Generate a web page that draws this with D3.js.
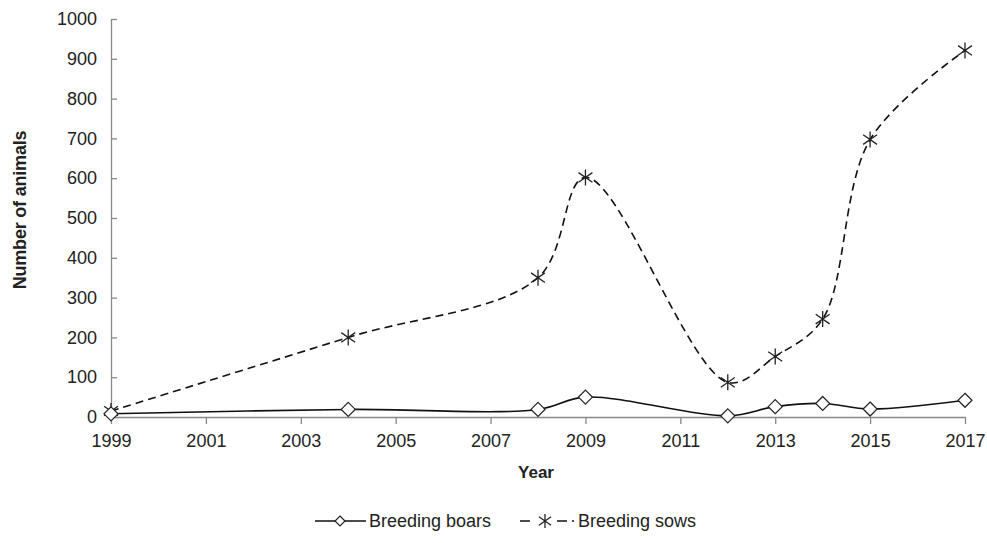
<!DOCTYPE html>
<html>
<head>
<meta charset="utf-8">
<script src="https://cdn.jsdelivr.net/npm/d3@7"></script>
<style>
  body { margin: 0; background: #fff; }
  text { font-family: "Liberation Sans", Arial, sans-serif; fill: #222; }
</style>
</head>
<body>
<div id="chart"></div>
<script>
const years = [1999, 2004, 2008, 2009, 2012, 2013, 2014, 2015, 2017];
const boars = [8, 19, 19, 50, 3, 26, 34, 20, 42];
const sows = [15, 200, 350, 602, 87, 152, 246, 697, 921];
const xTicks = [1999, 2001, 2003, 2005, 2007, 2009, 2011, 2013, 2015, 2017];
const yTicks = [0, 100, 200, 300, 400, 500, 600, 700, 800, 900, 1000];

const width = 987, height = 543;
const margin = { top: 19, right: 22, bottom: 126, left: 111 };
const w = width - margin.left - margin.right;
const h = height - margin.top - margin.bottom;

const svg = d3.select('#chart').append('svg')
  .attr('width', width).attr('height', height);
const g = svg.append('g').attr('transform', `translate(${margin.left},${margin.top})`);

const x = d3.scaleLinear().domain([1999, 2017]).range([0, w]);
const y = d3.scaleLinear().domain([0, 1000]).range([h, 0]);

// 軸
const xAxis = g.append('g').attr('transform', `translate(0,${h})`)
  .call(d3.axisBottom(x).tickValues(xTicks).tickFormat(d3.format('d')).tickSize(7).tickSizeOuter(0));
const yAxis = g.append('g')
  .call(d3.axisLeft(y).tickValues(yTicks).tickFormat(d3.format('d')).tickSize(-6).tickSizeOuter(0).tickPadding(14));
[xAxis, yAxis].forEach(a => {
  a.select('.domain').attr('stroke', '#888').attr('stroke-width', 1.3);
  a.selectAll('.tick line').attr('stroke', '#888').attr('stroke-width', 1.3);
  a.selectAll('.tick text').style('font-size', '18px').attr('fill', '#222');
});
xAxis.selectAll('.tick text').attr('dy', '1.1em');

// 軸ラベル
g.append('text').attr('x', w / 2 - 2).attr('y', h + 61)
  .attr('text-anchor', 'middle').style('font-size', '17px').style('font-weight', 'bold').text('Year');
g.append('text').attr('transform', 'rotate(-90)')
  .attr('x', -191).attr('y', -85)
  .attr('text-anchor', 'middle').style('font-size', '18px').style('font-weight', 'bold')
  .style('letter-spacing', '-0.2px').text('Number of animals');

const line = d3.line().curve(d3.curveCatmullRom.alpha(0.5))
  .x(d => x(d[0])).y(d => y(d[1]));

const boarData = years.map((yr, i) => [yr, boars[i]]);
const sowData = years.map((yr, i) => [yr, sows[i]]);

g.append('path').datum(sowData).attr('d', line)
  .attr('fill', 'none').attr('stroke', '#111').attr('stroke-width', 1.6).attr('stroke-dasharray', '8,5');
g.append('path').datum(boarData).attr('d', line)
  .attr('fill', 'none').attr('stroke', '#111').attr('stroke-width', 1.6);

const diamond = (sel, cx, cy, r) => sel.append('path')
  .attr('d', `M${cx},${cy - r}L${cx + r},${cy}L${cx},${cy + r}L${cx - r},${cy}Z`)
  .attr('fill', '#fff').attr('stroke', '#222').attr('stroke-width', 1.2);
const star = (sel, cx, cy, r) => sel.append('path')
  .attr('d', `M${cx},${cy - r}V${cy + r}M${cx - r * 0.87},${cy - r * 0.6}L${cx + r * 0.87},${cy + r * 0.6}M${cx - r * 0.87},${cy + r * 0.6}L${cx + r * 0.87},${cy - r * 0.6}`)
  .attr('fill', 'none').attr('stroke', '#222').attr('stroke-width', 1.3);

sowData.forEach(d => star(g, x(d[0]), y(d[1]), 8));
boarData.forEach(d => diamond(g, x(d[0]), y(d[1]), 7));

// 凡例
const lg = svg.append('g').attr('transform', 'translate(0,521)');
lg.append('line').attr('x1', 315).attr('x2', 366).attr('y1', 0).attr('y2', 0).attr('stroke', '#111').attr('stroke-width', 1.6);
diamond(lg, 340, 0, 5);
lg.append('text').attr('x', 369).attr('y', 6).style('font-size', '18px').text('Breeding boars');
lg.append('line').attr('x1', 520).attr('x2', 575).attr('y1', 0).attr('y2', 0).attr('stroke', '#111').attr('stroke-width', 1.6).attr('stroke-dasharray', '10,27,10,5,2,20');
star(lg, 545, 0, 7);
lg.append('text').attr('x', 578).attr('y', 6).style('font-size', '18px').text('Breeding sows');
</script>
</body>
</html>
